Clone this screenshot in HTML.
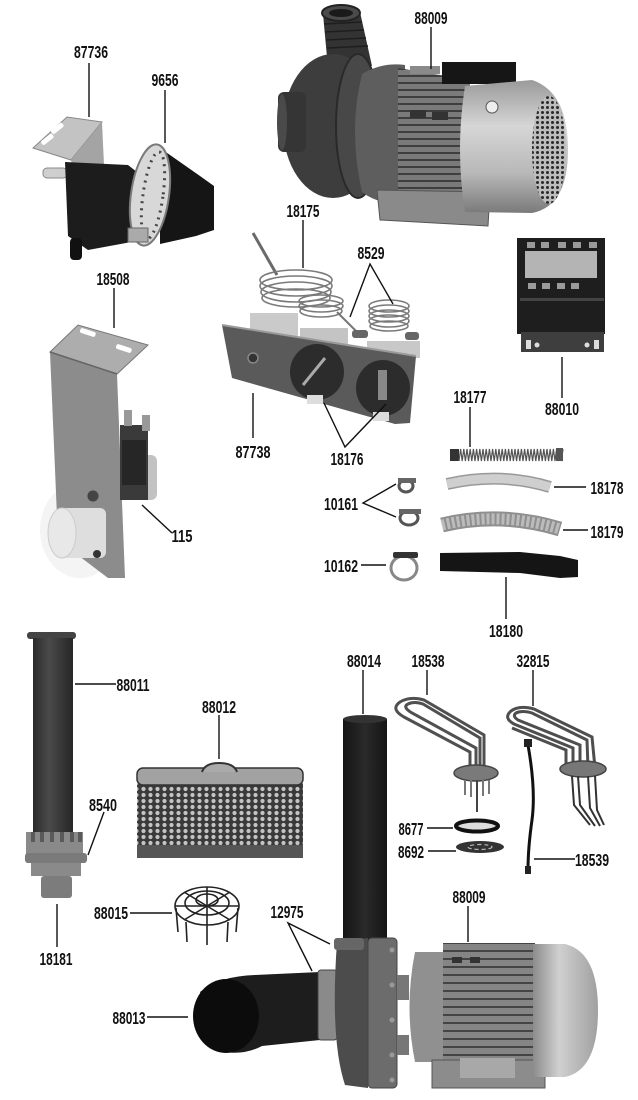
<!DOCTYPE html>
<html><head><meta charset="utf-8">
<style>
html,body{margin:0;padding:0;background:#fff;}
svg{display:block;}
.t{font-family:"Liberation Sans",sans-serif;font-weight:bold;font-size:17.5px;fill:#111;text-anchor:middle;}
.l{stroke:#111;stroke-width:1.4;fill:none;}
</style></head><body>
<svg width="638" height="1100" viewBox="0 0 638 1100" xmlns="http://www.w3.org/2000/svg">
<defs>
<linearGradient id="capG" x1="0" y1="0" x2="0" y2="1">
<stop offset="0" stop-color="#9a9a9a"/><stop offset="0.35" stop-color="#d6d6d6"/><stop offset="0.7" stop-color="#b8b8b8"/><stop offset="1" stop-color="#7a7a7a"/></linearGradient>
<linearGradient id="capG2" x1="0" y1="0" x2="1" y2="0">
<stop offset="0" stop-color="#8c8c8c"/><stop offset="0.4" stop-color="#d0d0d0"/><stop offset="1" stop-color="#a0a0a0"/></linearGradient>
<linearGradient id="tubeG" x1="0" y1="0" x2="1" y2="0">
<stop offset="0" stop-color="#2a2a2a"/><stop offset="0.4" stop-color="#4a4a4a"/><stop offset="1" stop-color="#262626"/></linearGradient>
<linearGradient id="blkG" x1="0" y1="0" x2="1" y2="0">
<stop offset="0" stop-color="#141414"/><stop offset="0.5" stop-color="#2a2a2a"/><stop offset="1" stop-color="#151515"/></linearGradient>
<pattern id="mesh" width="7" height="6" patternUnits="userSpaceOnUse">
<rect width="7" height="6" fill="#3a3a3a"/><circle cx="3.5" cy="3" r="2.1" fill="#c4c4c4"/></pattern>
<pattern id="grill" width="5" height="5" patternUnits="userSpaceOnUse">
<rect width="5" height="5" fill="#bdbdbd"/><circle cx="2.5" cy="2.5" r="1.5" fill="#2a2a2a"/></pattern>
<pattern id="fins" width="8" height="7" patternUnits="userSpaceOnUse">
<rect width="8" height="7" fill="#7a7a7a"/><rect y="5" width="8" height="2" fill="#3e3e3e"/></pattern>
<pattern id="fins2" width="8" height="8" patternUnits="userSpaceOnUse">
<rect width="8" height="8" fill="#858585"/><rect y="6" width="8" height="2" fill="#444"/></pattern>
</defs>

<!-- ===== TOP PUMP 88009 ===== -->
<path d="M323,14 L360,12 L372,66 L328,68 Z" fill="#333"/>
<g stroke="#1e1e1e" stroke-width="1.5">
<line x1="324" y1="24" x2="362" y2="22"/><line x1="325" y1="32" x2="364" y2="30"/><line x1="326" y1="40" x2="366" y2="38"/><line x1="327" y1="48" x2="368" y2="46"/></g>
<ellipse cx="341" cy="13" rx="19" ry="8" fill="#4a4a4a" stroke="#222" stroke-width="2"/>
<ellipse cx="341" cy="13" rx="12" ry="4" fill="#1a1a1a"/>
<ellipse cx="333" cy="126" rx="50" ry="72" fill="#3d3d3d"/>
<rect x="278" y="92" width="28" height="60" rx="6" fill="#353535"/>
<ellipse cx="282" cy="122" rx="5" ry="28" fill="#4a4a4a"/>
<ellipse cx="358" cy="126" rx="22" ry="72" fill="#484848" stroke="#2a2a2a" stroke-width="2"/>
<path d="M362,74 Q382,62 405,65 L405,202 Q380,206 362,192 Q348,130 362,74 Z" fill="#5e5e5e"/>
<path d="M398,68 L470,80 L470,200 L398,206 Z" fill="url(#fins)"/>
<rect x="442" y="62" width="74" height="22" fill="#161616"/>
<rect x="410" y="66" width="30" height="8" fill="#8a8a8a"/>
<rect x="410" y="110" width="16" height="8" fill="#333"/><rect x="432" y="112" width="16" height="8" fill="#333"/>
<path d="M377,190 L490,192 L488,226 L380,220 Z" fill="#8a8a8a" stroke="#555" stroke-width="1"/>
<path d="M465,86 L532,80 Q568,92 568,150 Q568,206 532,213 L465,212 Q455,150 465,86 Z" fill="url(#capG)"/>
<ellipse cx="549" cy="150" rx="17" ry="54" fill="url(#grill)"/>
<circle cx="492" cy="107" r="6" fill="#eee" stroke="#555"/>

<!-- ===== VALVE 87736 / 9656 ===== -->
<polygon points="33,148 67,117 102,122 71,160" fill="#c3c3c3" stroke="#888" stroke-width="1"/>
<rect x="50" y="126" width="14" height="5" rx="2" fill="#fff" transform="rotate(-38 57 128)"/>
<rect x="40" y="137" width="14" height="5" rx="2" fill="#fff" transform="rotate(-38 47 139)"/>
<polygon points="71,160 102,122 104,165 96,178 74,175" fill="#a4a4a4"/>
<rect x="43" y="168" width="24" height="10" rx="4" fill="#cfcfcf" stroke="#888" stroke-width="1"/>
<polygon points="65,162 128,165 142,176 142,240 88,250 68,236" fill="#1c1c1c"/>
<rect x="70" y="238" width="12" height="22" rx="4" fill="#111"/>
<polygon points="160,148 200,176 214,186 214,230 196,236 160,244" fill="#151515"/>
<ellipse cx="150" cy="195" rx="19" ry="51" fill="#d8d8d8" stroke="#7a7a7a" stroke-width="2" transform="rotate(8 150 195)"/>
<ellipse cx="153" cy="195" rx="10" ry="44" fill="none" stroke="#444" stroke-width="3" stroke-dasharray="2 5" transform="rotate(8 150 195)"/>
<rect x="128" y="228" width="20" height="14" fill="#aaa" stroke="#666"/>

<!-- ===== THERMOSTAT 18175 / 8529 / 87738 / 18176 ===== -->
<line x1="253" y1="233" x2="277" y2="275" stroke="#6a6a6a" stroke-width="3"/>
<g fill="none" stroke="#7a7a7a" stroke-width="1.6">
<ellipse cx="296" cy="280" rx="36" ry="10"/><ellipse cx="296" cy="286" rx="36" ry="10"/><ellipse cx="296" cy="292" rx="35" ry="10"/><ellipse cx="296" cy="298" rx="34" ry="9"/>
<ellipse cx="321" cy="301" rx="22" ry="6"/><ellipse cx="321" cy="306" rx="22" ry="6"/><ellipse cx="321" cy="311" rx="21" ry="6"/>
<ellipse cx="389" cy="306" rx="20" ry="6"/><ellipse cx="389" cy="311" rx="20" ry="6"/><ellipse cx="389" cy="316" rx="20" ry="6"/><ellipse cx="389" cy="321" rx="20" ry="6"/><ellipse cx="389" cy="326" rx="19" ry="5"/>
</g>
<line x1="337" y1="312" x2="360" y2="335" stroke="#777" stroke-width="2"/>
<rect x="352" y="330" width="16" height="8" rx="3" fill="#666"/>
<rect x="405" y="332" width="14" height="8" rx="3" fill="#666"/>
<polygon points="250,313 298,313 298,337 250,337" fill="#cacaca"/>
<polygon points="300,328 348,328 348,346 300,346" fill="#c4c4c4"/>
<polygon points="367,341 420,341 420,358 367,358" fill="#c8c8c8"/>
<polygon points="222,325 232,327 416,356 410,423 395,424 232,378" fill="#5a5a5a"/>
<line x1="222" y1="325" x2="416" y2="356" stroke="#9a9a9a" stroke-width="2"/>
<circle cx="253" cy="358" r="5" fill="#333" stroke="#888" stroke-width="1.5"/>
<ellipse cx="317" cy="372" rx="27" ry="28" fill="#2c2c2c"/>
<ellipse cx="383" cy="388" rx="27" ry="28" fill="#2c2c2c"/>
<line x1="303" y1="385" x2="325" y2="358" stroke="#aaa" stroke-width="3"/>
<rect x="378" y="370" width="9" height="30" fill="#888"/>
<rect x="307" y="395" width="16" height="9" fill="#ddd"/>
<rect x="373" y="412" width="16" height="9" fill="#ddd"/>

<!-- ===== TRANSFORMER 88010 ===== -->
<rect x="517" y="238" width="88" height="96" fill="#1e1e1e"/>
<rect x="525" y="251" width="72" height="27" fill="#b4b4b4"/>
<g fill="#9a9a9a"><rect x="527" y="242" width="8" height="6"/><rect x="541" y="242" width="8" height="6"/><rect x="558" y="242" width="8" height="6"/><rect x="573" y="242" width="8" height="6"/><rect x="589" y="242" width="8" height="6"/>
<rect x="528" y="283" width="8" height="6"/><rect x="542" y="283" width="8" height="6"/><rect x="557" y="283" width="8" height="6"/><rect x="571" y="283" width="8" height="6"/></g>
<rect x="520" y="298" width="84" height="3" fill="#444"/>
<rect x="521" y="332" width="83" height="20" fill="#3e3e3e"/>
<rect x="526" y="340" width="5" height="9" fill="#ddd"/><circle cx="537" cy="345" r="2.5" fill="#ddd"/><circle cx="587" cy="345" r="2.5" fill="#ddd"/><rect x="594" y="340" width="5" height="9" fill="#ddd"/>

<!-- ===== VALVE 18508 / 115 ===== -->
<ellipse cx="80" cy="530" rx="40" ry="48" fill="#f4f4f4"/>
<polygon points="50,352 117,374 125,578 108,578 58,540" fill="#8c8c8c"/>
<polygon points="50,352 78,325 148,345 117,374" fill="#adadad" stroke="#777" stroke-width="1"/>
<rect x="80" y="330" width="16" height="5" rx="2" fill="#fff" transform="rotate(18 88 332)"/>
<rect x="116" y="346" width="16" height="5" rx="2" fill="#fff" transform="rotate(18 124 348)"/>
<line x1="50" y1="352" x2="117" y2="374" stroke="#666" stroke-width="1.5"/>
<rect x="139" y="455" width="18" height="45" rx="6" fill="#c2c2c2"/>
<rect x="120" y="425" width="28" height="75" fill="#3a3a3a"/>
<rect x="122" y="440" width="24" height="45" fill="#262626"/>
<rect x="124" y="410" width="8" height="16" fill="#999"/><rect x="142" y="415" width="8" height="16" fill="#999"/>
<rect x="56" y="508" width="50" height="50" rx="6" fill="#dedede"/>
<ellipse cx="62" cy="533" rx="14" ry="25" fill="#e8e8e8" stroke="#ccc"/>
<circle cx="93" cy="496" r="6" fill="#444" stroke="#888"/>
<circle cx="97" cy="554" r="4" fill="#333"/>

<!-- ===== SPRING 18177 ===== -->
<rect x="450" y="449" width="9" height="12" fill="#333"/>
<path d="M459,461 l1.6,-12 l1.6,12 l1.6,-12 l1.6,12 l1.6,-12 l1.6,12 l1.6,-12 l1.6,12 l1.6,-12 l1.6,12 l1.6,-12 l1.6,12 l1.6,-12 l1.6,12 l1.6,-12 l1.6,12 l1.6,-12 l1.6,12 l1.6,-12 l1.6,12 l1.6,-12 l1.6,12 l1.6,-12 l1.6,12 l1.6,-12 l1.6,12 l1.6,-12 l1.6,12 l1.6,-12 l1.6,12 l1.6,-12 l1.6,12 l1.6,-12 l1.6,12 l1.6,-12 l1.6,12 l1.6,-12 l1.6,12 l1.6,-12 l1.6,12 l1.6,-12 l1.6,12 l1.6,-12 l1.6,12 l1.6,-12 l1.6,12 l1.6,-12 l1.6,12 l1.6,-12 l1.6,12 l1.6,-12 l1.6,12 l1.6,-12 l1.6,12 l1.6,-12 l1.6,12 l1.6,-12 l1.6,12 l1.6,-12 l1.6,12 l1.6,-12 l1.6,12 l1.6,-12 l1.6,12 l1.6,-12" fill="none" stroke="#555" stroke-width="1.2"/>
<rect x="556" y="448" width="7" height="13" fill="#555"/>

<!-- ===== HOSES & CLAMPS ===== -->
<path d="M447,484 Q500,472 550,487" fill="none" stroke="#999" stroke-width="12"/>
<path d="M447,484 Q500,472 550,487" fill="none" stroke="#cfcfcf" stroke-width="9"/>
<path d="M442,525 Q500,511 560,529" fill="none" stroke="#8f8f8f" stroke-width="15"/>
<path d="M442,525 Q500,511 560,529" fill="none" stroke="#bcbcbc" stroke-width="11" stroke-dasharray="3 2"/>
<polygon points="440,553 520,552 560,556 578,560 578,577 560,578 520,573 440,571" fill="#151515"/>
<ellipse cx="406" cy="486" rx="7" ry="6" fill="none" stroke="#555" stroke-width="3"/>
<rect x="398" y="478" width="18" height="5" fill="#666"/>
<ellipse cx="409" cy="518" rx="9" ry="7" fill="none" stroke="#555" stroke-width="3"/>
<rect x="399" y="509" width="22" height="5" fill="#666"/>
<ellipse cx="404" cy="568" rx="13" ry="12" fill="none" stroke="#888" stroke-width="3"/>
<rect x="393" y="552" width="25" height="6" rx="2" fill="#333"/>

<!-- ===== FILTER TUBE 88011 / 8540 / 18181 ===== -->
<rect x="27" y="632" width="49" height="7" rx="3" fill="#444"/>
<rect x="33" y="638" width="40" height="196" fill="url(#tubeG)"/>
<rect x="26" y="832" width="57" height="22" fill="#8a8a8a"/>
<g fill="#5a5a5a"><rect x="31" y="832" width="4" height="10"/><rect x="40" y="832" width="4" height="10"/><rect x="50" y="832" width="4" height="10"/><rect x="60" y="832" width="4" height="10"/><rect x="70" y="832" width="4" height="10"/><rect x="78" y="832" width="4" height="10"/></g>
<rect x="25" y="853" width="62" height="10" rx="3" fill="#7a7a7a"/>
<rect x="31" y="863" width="50" height="13" fill="#8a8a8a"/>
<rect x="41" y="876" width="31" height="22" rx="3" fill="#7c7c7c"/>

<!-- ===== BASKET 88012 ===== -->
<rect x="137" y="783" width="166" height="74" fill="url(#mesh)"/>
<rect x="137" y="845" width="166" height="13" fill="#555"/>
<rect x="137" y="768" width="166" height="17" rx="6" fill="#a2a2a2" stroke="#333" stroke-width="1.5"/>
<path d="M202,772 Q205,763 219,763 Q234,763 237,772" fill="#aaa" stroke="#333" stroke-width="2"/>

<!-- ===== CAGE 88015 ===== -->
<g fill="none" stroke="#222" stroke-width="1.6">
<ellipse cx="207" cy="906" rx="32" ry="19"/>
<ellipse cx="207" cy="903" rx="22" ry="12"/>
<ellipse cx="207" cy="900" rx="11" ry="6"/>
<line x1="175" y1="906" x2="239" y2="906"/><line x1="207" y1="887" x2="207" y2="925"/>
<line x1="184" y1="892" x2="230" y2="920"/><line x1="230" y1="892" x2="184" y2="920"/>
<line x1="176" y1="908" x2="178" y2="932"/><line x1="238" y1="908" x2="236" y2="932"/>
<line x1="186" y1="922" x2="187" y2="942"/><line x1="228" y1="922" x2="227" y2="942"/>
<line x1="207" y1="925" x2="207" y2="945"/>
</g>

<!-- ===== HEATING ELEMENTS ===== -->
<g fill="none" stroke="#505050" stroke-width="3">
<path d="M470,772 L470,752 L404,717 Q390,709 400,702 Q410,696 424,700 L484,735 L484,772"/>
<path d="M476,772 L476,748 L412,713 Q402,707 408,704 Q414,701 423,704 L480,738 L480,772"/>
</g>
<ellipse cx="476" cy="773" rx="22" ry="8" fill="#7a7a7a" stroke="#444" stroke-width="1.5"/>
<g stroke="#777" stroke-width="2"><line x1="465" y1="780" x2="465" y2="795"/><line x1="471" y1="780" x2="471" y2="797"/><line x1="483" y1="780" x2="483" y2="796"/><line x1="489" y1="780" x2="489" y2="794"/></g>
<line x1="477" y1="780" x2="477" y2="812" stroke="#444" stroke-width="2"/>

<g fill="none" stroke="#4e4e4e" stroke-width="3">
<path d="M573,768 L573,748 L514,724 Q503,718 511,711 Q519,705 534,709 L592,737 L595,768"/>
<path d="M580,768 L580,745 L518,720 Q512,716 516,713 Q522,710 532,713 L587,740 L588,768"/>
<path d="M566,768 L566,750 L512,728"/>
</g>
<ellipse cx="583" cy="769" rx="23" ry="8" fill="#777" stroke="#444" stroke-width="1.5"/>
<g fill="none" stroke="#333" stroke-width="2">
<path d="M572,776 L574,805 L590,825"/><path d="M578,776 L580,805 L595,826"/><path d="M588,776 L590,808 L600,826"/><path d="M595,776 L597,810 L604,825"/></g>

<path d="M528,745 Q536,790 532,820 Q528,848 528,870" fill="none" stroke="#111" stroke-width="3"/>
<rect x="524" y="739" width="8" height="8" fill="#222"/>
<rect x="525" y="866" width="6" height="8" fill="#222"/>

<ellipse cx="477" cy="826" rx="21" ry="5.5" fill="#ddd" stroke="#111" stroke-width="4"/>
<ellipse cx="480" cy="847" rx="24" ry="6" fill="#333"/>
<ellipse cx="480" cy="847" rx="12" ry="2.5" fill="none" stroke="#bbb" stroke-width="1.2" stroke-dasharray="4 3"/>

<!-- ===== TUBE 88014 ===== -->
<rect x="343" y="719" width="44" height="230" fill="url(#blkG)"/>
<ellipse cx="365" cy="719" rx="22" ry="4" fill="#333"/>

<!-- ===== BOTTOM PUMP 88009 ===== -->
<path d="M200,992 Q220,976 255,975 L320,972 L320,1040 L262,1046 Q245,1055 225,1052 Z" fill="#1d1d1d"/>
<ellipse cx="226" cy="1016" rx="33" ry="37" fill="#0c0c0c"/>
<rect x="318" y="970" width="19" height="70" rx="3" fill="#8a8a8a" stroke="#444" stroke-width="1"/>
<path d="M337,942 L368,938 L368,1088 L345,1085 Q330,1040 337,942 Z" fill="#4c4c4c"/>
<rect x="334" y="938" width="30" height="12" rx="3" fill="#666"/>
<rect x="368" y="938" width="29" height="150" rx="4" fill="#6c6c6c" stroke="#444" stroke-width="1"/>
<g fill="#999"><circle cx="392" cy="950" r="2.5"/><circle cx="392" cy="985" r="2.5"/><circle cx="392" cy="1020" r="2.5"/><circle cx="392" cy="1055" r="2.5"/><circle cx="392" cy="1080" r="2.5"/></g>
<rect x="397" y="975" width="12" height="25" fill="#777"/>
<rect x="397" y="1035" width="12" height="20" fill="#777"/>
<path d="M415,952 L443,952 L443,1062 L415,1062 Q404,1007 415,952 Z" fill="#909090"/>
<rect x="443" y="943" width="92" height="124" fill="url(#fins2)"/>
<rect x="452" y="957" width="10" height="6" fill="#333"/><rect x="470" y="957" width="10" height="6" fill="#333"/>
<path d="M432,1060 L545,1060 L545,1088 L432,1088 Z" fill="#8c8c8c" stroke="#555" stroke-width="1"/>
<rect x="460" y="1058" width="55" height="20" fill="#a8a8a8"/>
<path d="M533,944 L565,944 Q598,952 598,1010 Q598,1070 565,1077 L533,1077 Z" fill="url(#capG2)"/>

<!-- ===== LEADER LINES ===== -->
<g class="l">
<line x1="89" y1="63" x2="89" y2="117"/>
<line x1="165" y1="90" x2="165" y2="143"/>
<line x1="431" y1="27" x2="431" y2="69"/>
<line x1="303" y1="220" x2="303" y2="268"/>
<polyline points="350,317 370,264 393,304"/>
<line x1="253" y1="393" x2="253" y2="438"/>
<polyline points="324,403 345,447 386,404"/>
<line x1="562" y1="357" x2="562" y2="398"/>
<line x1="470" y1="407" x2="470" y2="447"/>
<line x1="114" y1="288" x2="114" y2="328"/>
<line x1="142" y1="505" x2="172" y2="533"/>
<polyline points="396,484 363,503 396,517"/>
<line x1="554" y1="487" x2="586" y2="487"/>
<line x1="563" y1="530" x2="588" y2="530"/>
<line x1="361" y1="565" x2="386" y2="565"/>
<line x1="506" y1="577" x2="506" y2="619"/>
<line x1="75" y1="684" x2="116" y2="684"/>
<line x1="219" y1="715" x2="219" y2="759"/>
<line x1="104" y1="812" x2="88" y2="855"/>
<line x1="57" y1="904" x2="57" y2="947"/>
<line x1="130" y1="913" x2="172" y2="913"/>
<polyline points="312,971 288,923 330,944"/>
<line x1="147" y1="1017" x2="188" y2="1017"/>
<line x1="468" y1="906" x2="468" y2="942"/>
<line x1="363" y1="670" x2="363" y2="714"/>
<line x1="427" y1="670" x2="427" y2="695"/>
<line x1="533" y1="670" x2="533" y2="706"/>
<line x1="427" y1="828" x2="453" y2="828"/>
<line x1="428" y1="851" x2="456" y2="851"/>
<line x1="534" y1="859" x2="575" y2="859"/>
</g>

<!-- ===== LABELS ===== -->
<g class="t">
<text x="91" y="58" textLength="34" lengthAdjust="spacingAndGlyphs">87736</text>
<text x="165" y="86" textLength="27" lengthAdjust="spacingAndGlyphs">9656</text>
<text x="431" y="24" textLength="33" lengthAdjust="spacingAndGlyphs">88009</text>
<text x="303" y="217" textLength="33" lengthAdjust="spacingAndGlyphs">18175</text>
<text x="371" y="259" textLength="27" lengthAdjust="spacingAndGlyphs">8529</text>
<text x="253" y="458" textLength="35" lengthAdjust="spacingAndGlyphs">87738</text>
<text x="347" y="465" textLength="33" lengthAdjust="spacingAndGlyphs">18176</text>
<text x="562" y="415" textLength="34" lengthAdjust="spacingAndGlyphs">88010</text>
<text x="470" y="403" textLength="33" lengthAdjust="spacingAndGlyphs">18177</text>
<text x="113" y="285" textLength="33" lengthAdjust="spacingAndGlyphs">18508</text>
<text x="182" y="542" textLength="21" lengthAdjust="spacingAndGlyphs">115</text>
<text x="341" y="510" textLength="34" lengthAdjust="spacingAndGlyphs">10161</text>
<text x="607" y="494" textLength="33" lengthAdjust="spacingAndGlyphs">18178</text>
<text x="607" y="538" textLength="33" lengthAdjust="spacingAndGlyphs">18179</text>
<text x="341" y="572" textLength="34" lengthAdjust="spacingAndGlyphs">10162</text>
<text x="506" y="637" textLength="34" lengthAdjust="spacingAndGlyphs">18180</text>
<text x="133" y="691" textLength="33" lengthAdjust="spacingAndGlyphs">88011</text>
<text x="219" y="713" textLength="34" lengthAdjust="spacingAndGlyphs">88012</text>
<text x="103" y="811" textLength="28" lengthAdjust="spacingAndGlyphs">8540</text>
<text x="56" y="965" textLength="33" lengthAdjust="spacingAndGlyphs">18181</text>
<text x="111" y="919" textLength="34" lengthAdjust="spacingAndGlyphs">88015</text>
<text x="287" y="918" textLength="33" lengthAdjust="spacingAndGlyphs">12975</text>
<text x="129" y="1024" textLength="33" lengthAdjust="spacingAndGlyphs">88013</text>
<text x="469" y="903" textLength="33" lengthAdjust="spacingAndGlyphs">88009</text>
<text x="364" y="667" textLength="34" lengthAdjust="spacingAndGlyphs">88014</text>
<text x="428" y="667" textLength="33" lengthAdjust="spacingAndGlyphs">18538</text>
<text x="533" y="667" textLength="33" lengthAdjust="spacingAndGlyphs">32815</text>
<text x="411" y="835" textLength="25" lengthAdjust="spacingAndGlyphs">8677</text>
<text x="411" y="858" textLength="26" lengthAdjust="spacingAndGlyphs">8692</text>
<text x="592" y="866" textLength="34" lengthAdjust="spacingAndGlyphs">18539</text>
</g>
</svg>
</body></html>
